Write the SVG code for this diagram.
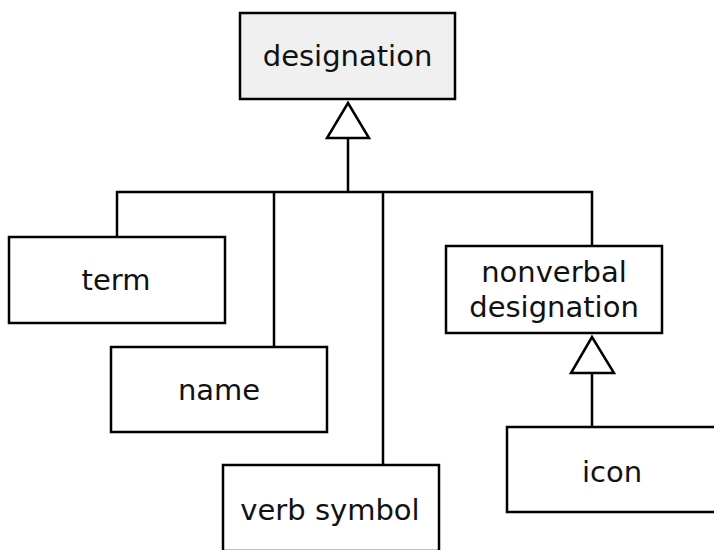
<svg xmlns="http://www.w3.org/2000/svg" width="714" height="550" viewBox="0 0 714 550">
<style>
.box{fill:#fff;stroke:#000;stroke-width:2.5}
.top{fill:#f0f0f0}
.lbl{font-family:"DejaVu Sans",sans-serif;font-size:29px;fill:#111;text-anchor:middle}
.ln{fill:none;stroke:#000;stroke-width:2.5}
.tri{fill:#fff;stroke:#000;stroke-width:2.5;stroke-linejoin:miter}
</style>
<rect width="714" height="550" fill="#fff"/>
<g id="connectors">
<polyline class="ln" points="348,138 348,192"/>
<polyline class="ln" points="117,237 117,192 592,192 592,246"/>
<polyline class="ln" points="274,192 274,347"/>
<polyline class="ln" points="383,192 383,465"/>
<polygon class="tri" points="348,103 327,138 369,138"/>
<polyline class="ln" points="592,373 592,427"/>
<polygon class="tri" points="592,337 571,373 614,373"/>
</g>
<g id="designation">
<rect class="box top" x="240" y="13" width="215" height="86"/>
<text class="lbl" x="347.5" y="66">designation</text>
</g>
<g id="term">
<rect class="box" x="9" y="237" width="216" height="86"/>
<text class="lbl" x="116" y="290">term</text>
</g>
<g id="name">
<rect class="box" x="111" y="347" width="216" height="85"/>
<text class="lbl" x="219" y="400">name</text>
</g>
<g id="verb-symbol">
<rect class="box" x="223" y="465" width="216" height="86"/>
<text class="lbl" x="330" y="520">verb symbol</text>
</g>
<g id="nonverbal-designation">
<rect class="box" x="446" y="246" width="216" height="87"/>
<text class="lbl" x="554" y="282">nonverbal</text>
<text class="lbl" x="554" y="317">designation</text>
</g>
<g id="icon">
<rect class="box" x="507" y="427" width="216" height="85"/>
<text class="lbl" x="612" y="482">icon</text>
</g>
</svg>
